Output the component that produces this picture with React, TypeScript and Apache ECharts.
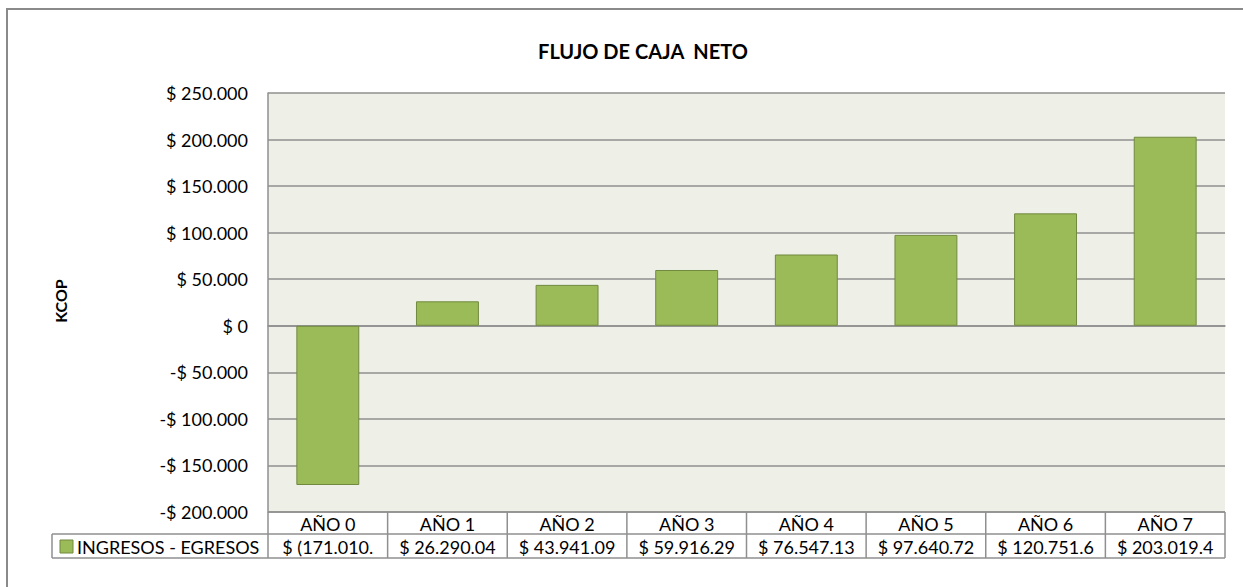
import React, { useEffect, useRef } from "react";
import * as echarts from "echarts";

const categories = ["AÑO 0", "AÑO 1", "AÑO 2", "AÑO 3", "AÑO 4", "AÑO 5", "AÑO 6", "AÑO 7"];
const seriesName = "INGRESOS - EGRESOS";
const values = [-171010, 26290.04, 43941.09, 59916.29, 76547.13, 97640.72, 120751.6, 203019.4];
const tableLabels = ["$ (171.010.", "$ 26.290.04", "$ 43.941.09", "$ 59.916.29", "$ 76.547.13", "$ 97.640.72", "$ 120.751.6", "$ 203.019.4"];
const yMin = -200000;
const yMax = 250000;
const yStep = 50000;

const W = 1243;
const H = 587;
const FONT = "Lato, 'Open Sans', sans-serif";
const PL = 268, PR = 1225, PT = 93, PB = 512;
const ROW1B = 534, ROW2B = 558, LEG_L = 52;
const GRID_C = "#8f8f8f";

function fmt(v: number) {
  const a = Math.abs(v);
  const s = a.toString().replace(/\B(?=(\d{3})+(?!\d))/g, ".");
  return (v < 0 ? "-$ " : "$ ") + s;
}

export default function App() {
  const ref = useRef<HTMLDivElement>(null);
  useEffect(() => {
    document.body.style.margin = "0";
    const chart = echarts.init(ref.current!, null, { renderer: "svg", width: W, height: H });
    const n = categories.length;
    const cw = (PR - PL) / n;
    const g: any[] = [];
    g.push({ type: "rect", shape: { x: 7, y: 9, width: 1300, height: 700 }, style: { fill: "none", stroke: "#8a8a8a", lineWidth: 2 }, silent: true });
    const ls = { stroke: GRID_C, lineWidth: 1.5 };
    g.push({ type: "line", shape: { x1: PL, y1: ROW1B, x2: PR, y2: ROW1B }, style: ls });
    g.push({ type: "line", shape: { x1: LEG_L, y1: ROW1B, x2: PL, y2: ROW1B }, style: ls });
    g.push({ type: "line", shape: { x1: LEG_L, y1: ROW2B, x2: PR, y2: ROW2B }, style: ls });
    g.push({ type: "line", shape: { x1: LEG_L, y1: ROW1B, x2: LEG_L, y2: ROW2B }, style: ls });
    g.push({ type: "line", shape: { x1: PL, y1: PB, x2: PR, y2: PB }, style: ls });
    for (let i = 0; i <= n; i++) {
      const x = PL + i * cw;
      g.push({ type: "line", shape: { x1: x, y1: PB, x2: x, y2: ROW2B }, style: ls });
    }
    categories.forEach((c, i) => {
      const cx = PL + (i + 0.5) * cw;
      g.push({ type: "text", x: cx, y: (PB + ROW1B) / 2 + 1, style: { text: c, fill: "#000", font: `18px ${FONT}`, align: "center", verticalAlign: "middle" } });
      g.push({ type: "text", x: cx, y: (ROW1B + ROW2B) / 2 + 1, style: { text: tableLabels[i], fill: "#000", font: `18px ${FONT}`, align: "center", verticalAlign: "middle" } });
    });
    g.push({ type: "rect", shape: { x: 60, y: 540, width: 13, height: 13 }, style: { fill: "#9bbb59", stroke: "#71893f", lineWidth: 1 } });
    g.push({ type: "text", x: 77, y: (ROW1B + ROW2B) / 2 + 1, style: { text: seriesName, fill: "#000", font: `18px ${FONT}`, align: "left", verticalAlign: "middle" } });
    g.push({ type: "text", x: 60, y: 301, rotation: Math.PI / 2, style: { text: "KCOP", fill: "#000", font: `bold 16px ${FONT}`, align: "center", verticalAlign: "middle" } });

    chart.setOption({
      animation: false,
      backgroundColor: "#ffffff",
      title: {
        text: "FLUJO DE CAJA  NETO",
        left: 638,
        textAlign: "center",
        top: 36,
        textStyle: { fontFamily: FONT, fontWeight: "bold", fontSize: 20, color: "#000" },
      },
      grid: {
        left: PL, right: W - PR, top: PT, bottom: H - PB,
        show: true, backgroundColor: "#eef0e8", borderWidth: 0,
      },
      xAxis: {
        type: "category",
        data: categories,
        axisLine: { show: true, onZero: true, lineStyle: { color: GRID_C, width: 1.5 } },
        axisTick: { show: false },
        axisLabel: { show: false },
      },
      yAxis: {
        type: "value",
        min: yMin, max: yMax, interval: yStep,
        axisLine: { show: true, lineStyle: { color: GRID_C, width: 1.5 } },
        axisTick: { show: false },
        axisLabel: { formatter: (v: number) => fmt(v), fontFamily: FONT, fontSize: 18, color: "#000", margin: 20 },
        splitLine: { show: true, lineStyle: { color: GRID_C, width: 1.5 } },
      },
      series: [
        {
          type: "bar",
          name: seriesName,
          data: values,
          barCategoryGap: "47.4%",
          itemStyle: { color: "#9bbb59", borderColor: "#71893f", borderWidth: 1 },
        },
      ],
      graphic: g,
    });
    return () => chart.dispose();
  }, []);
  return <div ref={ref} style={{ width: W, height: H }} />;
}
